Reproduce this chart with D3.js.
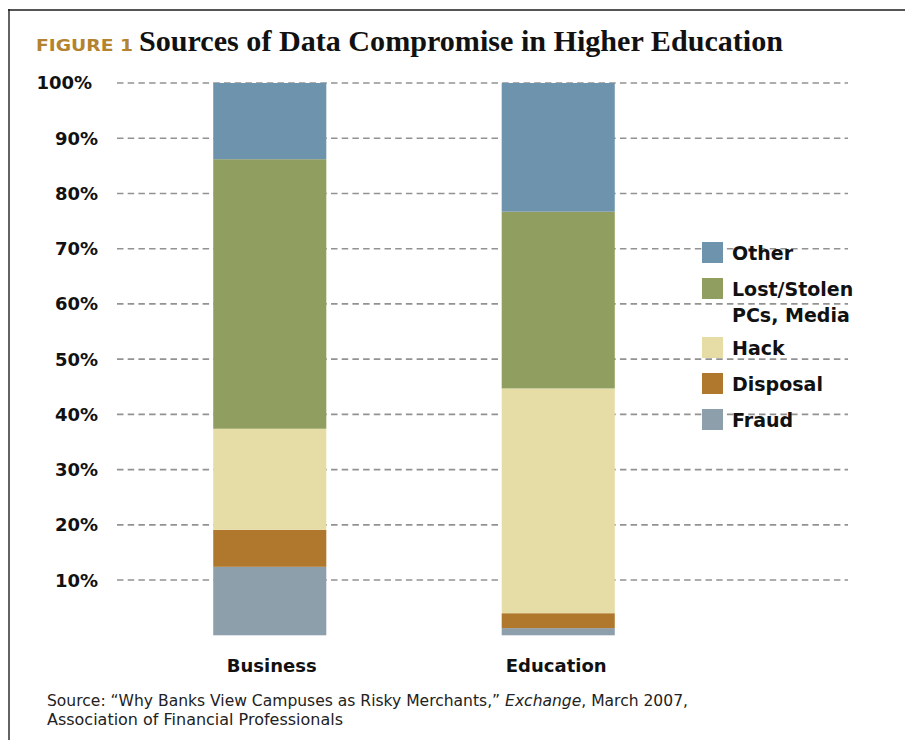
<!DOCTYPE html>
<html>
<head>
<meta charset="utf-8">
<script src="https://cdn.jsdelivr.net/npm/d3@7"></script>
<style>
  body { margin: 0; background: #fff; }
  text { font-family: "DejaVu Sans", sans-serif; }
</style>
</head>
<body>
<div id="chart"></div>
<script>
// data (percent of breaches)
const categories = ["Business", "Education"];
const sources = ["Fraud", "Disposal", "Hack", "Lost", "Other"];
const fraud = [12.4, 1.3];
const disposal = [6.7, 2.7];
const hack = [18.3, 40.7];
const lost = [48.8, 32.0];
const other = [13.8, 23.3];
const yTicks = [10, 20, 30, 40, 50, 60, 70, 80, 90, 100];
const legendOrder = ["Other", "Lost", "Hack", "Disposal", "Fraud"];
const legendLabels = {
  Other: ["Other"],
  Lost: ["Lost/Stolen", "PCs, Media"],
  Hack: ["Hack"],
  Disposal: ["Disposal"],
  Fraud: ["Fraud"]
};

const W = 905, H = 740;

const color = d3.scaleOrdinal()
  .domain(sources)
  .range(["#8d9faa", "#b0782c", "#e6dda6", "#909f5f", "#6e93ad"]);

const rows = categories.map((c, i) => ({
  category: c,
  Fraud: fraud[i],
  Disposal: disposal[i],
  Hack: hack[i],
  Lost: lost[i],
  Other: other[i]
}));

const stacked = d3.stack().keys(sources)(rows);

const svg = d3.select("#chart")
  .append("svg")
  .attr("width", W)
  .attr("height", H);

// frame
svg.append("line")
  .attr("x1", 8).attr("x2", W)
  .attr("y1", 10).attr("y2", 10)
  .attr("stroke", "#555")
  .attr("stroke-width", 2.2);

svg.append("line")
  .attr("x1", 9).attr("x2", 9)
  .attr("y1", 9).attr("y2", H)
  .attr("stroke", "#222")
  .attr("stroke-width", 1.4);

// title
svg.append("text")
  .attr("x", 36)
  .attr("y", 51)
  .attr("textLength", 97)
  .attr("lengthAdjust", "spacingAndGlyphs")
  .style("font-size", "16.5px")
  .style("font-weight", "bold")
  .style("fill", "#b3832f")
  .text("FIGURE 1");

svg.append("text")
  .attr("x", 139)
  .attr("y", 51)
  .attr("textLength", 644)
  .attr("lengthAdjust", "spacingAndGlyphs")
  .style("font-family", "'Liberation Serif', serif")
  .style("font-size", "30px")
  .style("font-weight", "bold")
  .style("fill", "#111")
  .text("Sources of Data Compromise in Higher Education");

const x = d3.scaleBand()
  .domain(categories)
  .range([69, 759])
  .paddingInner(0.608)
  .paddingOuter(0.5);

const y = d3.scaleLinear()
  .domain([0, 100])
  .range([635.3, 83]);

// dashed grid
svg.append("g")
  .selectAll("line")
  .data(yTicks)
  .join("line")
  .attr("x1", 117)
  .attr("x2", 848)
  .attr("y1", d => y(d))
  .attr("y2", d => y(d))
  .attr("stroke", "#929292")
  .attr("stroke-width", 1.6)
  .attr("stroke-dasharray", "6.5,4.2");

// y labels
svg.append("g")
  .selectAll("text")
  .data(yTicks)
  .join("text")
  .attr("x", d => d === 100 ? 92 : 98)
  .attr("y", d => y(d))
  .attr("dy", "0.36em")
  .attr("text-anchor", "end")
  .style("font-size", "18px")
  .style("font-weight", "bold")
  .style("fill", "#111")
  .text(d => d + "%");

// bars
svg.append("g")
  .selectAll("g")
  .data(stacked)
  .join("g")
  .attr("fill", d => color(d.key))
  .selectAll("rect")
  .data(d => d)
  .join("rect")
  .attr("x", d => x(d.data.category))
  .attr("y", d => y(d[1]))
  .attr("width", x.bandwidth())
  .attr("height", d => y(d[0]) - y(d[1]));

// category labels
svg.append("g")
  .selectAll("text")
  .data(categories)
  .join("text")
  .attr("x", d => x(d) + x.bandwidth() / 2 + (d === "Business" ? 2 : -2))
  .attr("y", 672)
  .attr("text-anchor", "middle")
  .style("font-size", "18px")
  .style("font-weight", "bold")
  .style("fill", "#111")
  .text(d => d);

// legend
const legend = svg.append("g")
  .attr("transform", "translate(702,242)");

let ly = 0;
legendOrder.forEach(key => {
  const item = legend.append("g")
    .attr("transform", `translate(0,${ly})`);
  item.append("rect")
    .attr("width", 21)
    .attr("height", 21)
    .attr("fill", color(key));
  const t = item.append("text")
    .attr("x", 30)
    .attr("y", 18)
    .style("font-size", "19px")
    .style("font-weight", "bold")
    .style("fill", "#111");
  legendLabels[key].forEach((line, i) => {
    t.append("tspan")
      .attr("x", 30)
      .attr("dy", i === 0 ? 0 : 26)
      .text(line);
  });
  ly += 36 + (legendLabels[key].length - 1) * 23;
});

// source note
const note = svg.append("g")
  .style("font-size", "15px")
  .style("fill", "#222");

const l1 = note.append("text")
  .attr("x", 47)
  .attr("y", 706)
  .attr("textLength", 641)
  .attr("lengthAdjust", "spacingAndGlyphs");
l1.append("tspan").text("Source: \u201cWhy Banks View Campuses as Risky Merchants,\u201d ");
l1.append("tspan").style("font-style", "italic").text("Exchange");
l1.append("tspan").text(", March 2007,");

note.append("text")
  .attr("x", 47)
  .attr("y", 725)
  .attr("textLength", 296)
  .attr("lengthAdjust", "spacingAndGlyphs")
  .text("Association of Financial Professionals");
</script>
</body>
</html>
